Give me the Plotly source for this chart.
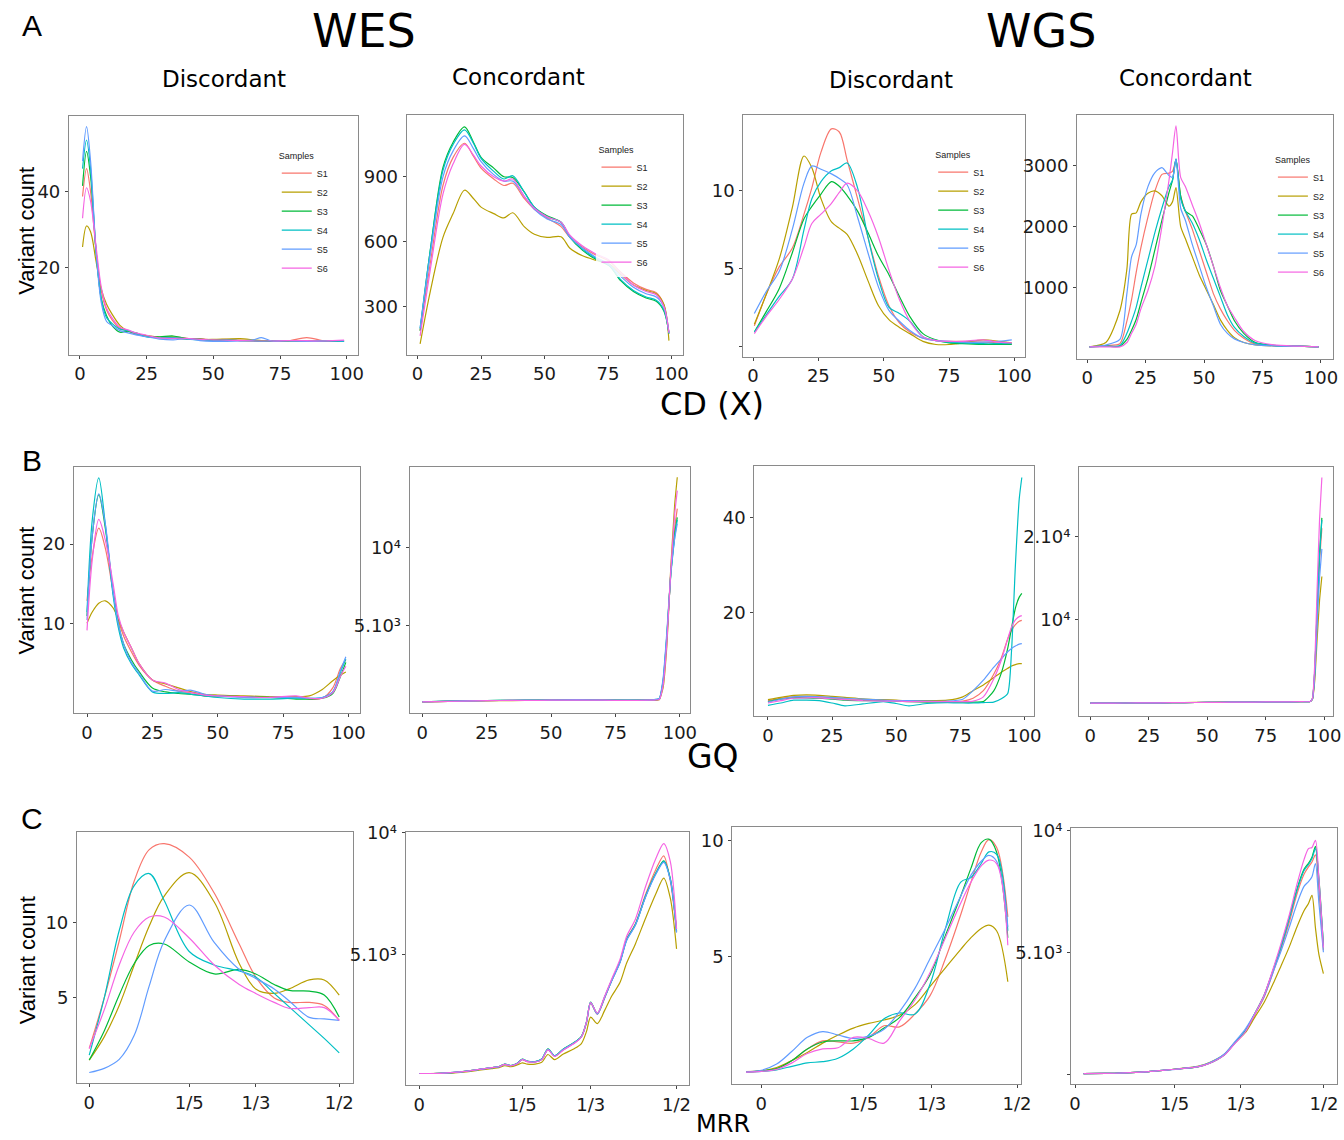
import plotly.graph_objects as go

# page geometry (the photographed page maps page px -> picture px with a small scale/offset)
FW, FH = 1356, 1140
S, OY = 0.992, 9.0

SAMPLES = ["S1", "S2", "S3", "S4", "S5", "S6"]
COLORS = ["#F8766D", "#B79F00", "#00BA38", "#00BFC4", "#619CFF", "#F564E3"]

PCT_TICKS = [0, 25, 50, 75, 100]
PCT_LABELS = ["0", "25", "50", "75", "100"]
MRR_TICKS = [0, 0.2, 1 / 3, 0.5]
MRR_LABELS = ["0", "1/5", "1/3", "1/2"]

# ---------------- Row A : CD (X) ----------------
A1_X = [1, 2.5, 4, 6, 8, 10, 12, 15, 18, 21, 25, 30, 35, 40, 45, 50, 55, 60, 65, 68, 72, 78, 85, 92, 99]
A1_S1 = [38.7, 46.0, 40.0, 25.0, 14.0, 9.0, 6.5, 4.2, 3.5, 2.6, 2.2, 1.8, 1.6, 1.4, 1.5, 1.2, 1.3, 1.1, 1.0, 0.9, 0.9, 0.9, 1.8, 0.9, 1.0]
A1_S2 = [25.5, 31.0, 29.5, 22.0, 14.5, 10.5, 8.0, 5.0, 3.5, 2.8, 2.3, 1.9, 2.0, 1.6, 1.3, 1.3, 1.4, 1.5, 1.2, 1.0, 1.0, 0.9, 0.9, 0.8, 0.9]
A1_S3 = [41.5, 50.5, 44.0, 25.0, 12.0, 7.5, 5.0, 3.2, 3.5, 3.0, 2.0, 2.0, 2.2, 1.5, 1.4, 1.1, 1.2, 1.0, 0.9, 0.8, 0.8, 0.9, 0.9, 0.8, 0.8]
A1_S4 = [46.0, 53.5, 46.0, 25.0, 12.0, 7.0, 5.5, 4.0, 3.6, 2.8, 2.0, 1.7, 1.8, 1.4, 1.2, 1.0, 1.1, 1.0, 0.9, 0.8, 0.9, 0.9, 0.8, 0.9, 0.8]
A1_S5 = [48.0, 57.0, 48.0, 25.0, 11.0, 6.0, 5.0, 3.6, 3.0, 2.5, 2.0, 1.4, 1.2, 1.5, 1.0, 0.8, 0.8, 0.9, 1.2, 1.8, 0.9, 1.0, 0.8, 0.9, 1.0]
A1_S6 = [33.0, 41.0, 37.5, 26.0, 15.0, 9.5, 7.0, 4.5, 3.8, 3.0, 2.4, 1.7, 1.6, 1.6, 1.3, 1.2, 1.1, 1.0, 0.9, 0.9, 0.9, 1.0, 1.0, 0.9, 1.1]
A1_YTICKS = [20, 40]
A1_YLABELS = ["20", "40"]

A2_X = [1, 5, 10, 14, 18.5, 22, 25, 30, 34, 37.5, 42, 46, 51, 56.5, 60, 65, 70, 75.5, 80, 85, 90, 94, 97, 99]
A2_S1 = [190, 500, 860, 990, 1055, 995, 940, 890, 860, 870, 800, 750, 710, 670, 620, 575, 540, 510, 460, 410, 380, 365, 310, 175]
A2_S2 = [128, 370, 620, 730, 838, 800, 760, 730, 710, 734, 670, 635, 620, 623, 570, 535, 515, 497, 450, 400, 375, 360, 310, 143]
A2_S3 = [189, 560, 943, 1060, 1131, 1060, 990, 940, 900, 897, 830, 760, 720, 690, 620, 560, 520, 489, 420, 370, 340, 325, 280, 180]
A2_S4 = [200, 560, 930, 1050, 1117, 1055, 985, 925, 890, 905, 830, 760, 715, 690, 625, 565, 525, 490, 425, 375, 345, 330, 285, 175]
A2_S5 = [200, 540, 900, 1020, 1089, 1030, 970, 910, 880, 880, 810, 750, 705, 680, 620, 570, 530, 495, 440, 390, 360, 345, 300, 180]
A2_S6 = [165, 470, 820, 960, 1050, 1000, 950, 900, 880, 890, 810, 755, 715, 690, 630, 580, 545, 515, 455, 400, 370, 355, 300, 180]
A2_YTICKS = [300, 600, 900]
A2_YLABELS = ["300", "600", "900"]

A3_X = [0.5, 5, 10, 15, 19.5, 22.5, 26, 30, 33, 36, 40, 44, 48, 52, 56, 60, 65, 70, 75, 80, 88, 94, 99]
A3_S1 = [1.3, 3.3, 5.1, 6.3, 8.5, 10.2, 12.5, 14.0, 13.8, 12.0, 9.5, 7.0, 4.5, 2.6, 1.5, 0.9, 0.5, 0.35, 0.3, 0.3, 0.25, 0.2, 0.13]
A3_S2 = [1.4, 3.3, 5.6, 8.9, 12.25, 11.5, 9.5, 8.0, 7.6, 7.2, 5.9, 4.2, 2.6, 1.7, 1.2, 0.8, 0.3, 0.1, 0.1, 0.2, 0.4, 0.3, 0.2]
A3_S3 = [0.9, 2.2, 3.7, 6.0, 8.2, 9.0, 9.8, 10.6, 10.3, 9.7, 8.7, 7.3, 5.8, 4.6, 3.2, 1.9, 0.8, 0.4, 0.2, 0.15, 0.1, 0.1, 0.1]
A3_S4 = [0.9, 2.0, 3.2, 4.3, 7.5, 9.5, 10.6, 11.3, 11.5, 11.8, 10.2, 7.0, 4.3, 2.5, 2.1, 1.6, 0.6, 0.35, 0.25, 0.2, 0.15, 0.15, 0.15]
A3_S5 = [2.1, 3.5, 4.8, 7.5, 10.5, 11.6, 11.4, 11.1, 10.8, 10.4, 8.3, 6.0, 3.8, 2.3, 1.6, 1.0, 0.5, 0.35, 0.3, 0.25, 0.25, 0.3, 0.4]
A3_S6 = [0.8, 1.9, 3.0, 4.3, 6.4, 7.9, 8.5, 9.2, 9.9, 10.5, 10.0, 8.7, 7.0, 4.9, 3.0, 1.6, 0.6, 0.35, 0.3, 0.3, 0.4, 0.25, 0.2]
A3_YTICKS = [0, 5, 10]
A3_YLABELS = ["", "5", "10"]

A4_X = [1, 8, 14, 17, 19, 21, 23, 26, 29, 32, 35, 36.5, 38, 40, 42, 45, 48, 51, 54, 57, 60, 63, 67, 72, 80, 90, 99]
A4_S1 = [30, 50, 80, 450, 800, 1250, 1650, 2150, 2580, 2850, 2870, 2900, 3070, 2500, 2250, 1950, 1600, 1250, 900, 650, 456, 300, 170, 75, 50, 40, 30]
A4_S2 = [30, 100, 620, 1300, 2200, 2220, 2400, 2540, 2580, 2500, 2330, 2400, 2634, 2000, 1800, 1500, 1200, 960, 720, 470, 300, 180, 100, 60, 45, 40, 30]
A4_S3 = [30, 40, 40, 150, 300, 480, 750, 1150, 1620, 2100, 2550, 2750, 3098, 2500, 2250, 2170, 1950, 1700, 1350, 950, 700, 456, 250, 100, 55, 40, 30]
A4_S4 = [30, 40, 50, 250, 450, 680, 1000, 1450, 1900, 2300, 2650, 2750, 3098, 2450, 2250, 2050, 1780, 1450, 1150, 850, 550, 347, 200, 90, 50, 40, 30]
A4_S5 = [30, 60, 150, 900, 1500, 1700, 2200, 2650, 2880, 2961, 2830, 2800, 3098, 2300, 2100, 1700, 1350, 1000, 700, 400, 250, 160, 100, 60, 45, 40, 30]
A4_S6 = [30, 30, 30, 100, 250, 400, 650, 950, 1350, 2000, 2750, 3200, 3642, 2800, 2650, 2350, 2050, 1700, 1350, 1000, 700, 510, 280, 129, 60, 40, 30]
A4_YTICKS = [1000, 2000, 3000]
A4_YLABELS = ["1000", "2000", "3000"]

# ---------------- Row B : GQ ----------------
B1_X = [0, 2, 4.5, 7, 10, 12, 14, 17, 20, 25, 30, 35, 40, 45, 50, 60, 70, 80, 85, 90, 94, 97, 99]
B1_S1 = [12.9, 18.5, 22, 19.5, 14, 10.5, 8.5, 6.5, 4.8, 3.0, 2.2, 1.6, 1.4, 1.0, 1.0, 0.9, 0.8, 0.9, 0.6, 0.7, 2.0, 4.5, 5.5]
B1_S2 = [10.1, 11.5, 12.6, 12.9, 12.0, 10.5, 9.0, 7.0, 5.0, 3.0, 2.5, 2.0, 1.5, 1.2, 1.1, 1.0, 0.9, 0.9, 1.0, 1.8, 2.9, 3.6, 4.0]
B1_S3 = [11, 21, 26.2, 22, 14, 10, 7.5, 5.5, 4.0, 2.0, 1.5, 1.3, 1.2, 1.0, 1.0, 0.9, 0.8, 0.6, 0.6, 0.7, 1.3, 3.5, 5.2]
B1_S4 = [11.5, 23, 28.3, 22.5, 13.5, 9.5, 7.0, 5.0, 3.6, 1.5, 1.3, 1.4, 1.2, 1.0, 0.8, 0.6, 0.6, 0.7, 0.7, 0.8, 1.5, 4.0, 5.6]
B1_S5 = [10.5, 21, 26.3, 22.5, 14, 10, 7.5, 5.2, 3.8, 1.6, 1.8, 1.6, 1.7, 1.2, 1.0, 0.8, 0.8, 0.8, 0.7, 0.8, 1.5, 4.2, 5.9]
B1_S6 = [9.2, 18, 23.1, 20.5, 15, 11, 9.0, 7.0, 5.0, 3.0, 2.6, 1.8, 1.4, 1.1, 1.0, 0.9, 0.8, 1.0, 0.7, 0.7, 1.4, 3.5, 4.7]
B1_YTICKS = [10, 20]
B1_YLABELS = ["10", "20"]

B2_X = [0, 10, 20, 30, 40, 50, 60, 70, 80, 88, 92, 93.5, 95, 96.5, 98, 99]
B2_S1 = [80, 120, 150, 170, 180, 190, 200, 190, 180, 190, 250, 1300, 4300, 8500, 11300, 12530]
B2_S2 = [70, 110, 140, 160, 170, 180, 190, 180, 170, 180, 220, 1000, 3800, 8800, 12800, 14545]
B2_S3 = [90, 130, 160, 180, 190, 200, 220, 200, 190, 200, 270, 1400, 4400, 8400, 10900, 11970]
B2_S4 = [90, 130, 160, 180, 190, 200, 230, 200, 190, 200, 280, 1450, 4500, 8300, 10700, 11800]
B2_S5 = [80, 120, 150, 170, 180, 190, 210, 190, 180, 190, 300, 1600, 4700, 8400, 10600, 11560]
B2_S6 = [80, 120, 150, 170, 180, 190, 200, 190, 180, 190, 240, 1150, 4000, 8600, 12200, 13690]
B2_YTICKS = [5000, 10000]
B2_YLABELS = ["5.10³", "10⁴"]

B3_X = [0, 5, 10, 15, 20, 25, 30, 37, 45, 50, 55, 62, 70, 76, 80, 84, 88, 91, 93.5, 95, 96.5, 98, 99]
B3_S1 = [1.5, 2.0, 2.3, 2.4, 2.3, 2.1, 1.9, 1.7, 1.6, 1.5, 1.4, 1.4, 1.3, 1.4, 2.0, 3.6, 7.0, 10.5, 14.5, 16.3, 17.5, 18.2, 18.4]
B3_S2 = [1.7, 2.2, 2.6, 2.7, 2.6, 2.4, 2.2, 1.9, 1.7, 1.6, 1.5, 1.5, 1.6, 2.3, 3.6, 4.8, 6.3, 7.5, 8.3, 8.8, 9.1, 9.3, 9.3]
B3_S3 = [1.3, 1.8, 2.1, 2.1, 2.0, 1.8, 1.6, 1.5, 1.5, 1.4, 1.3, 1.2, 1.2, 1.2, 1.2, 1.3, 3.5, 7.3, 12.5, 16.8, 21, 23.3, 24.1]
B3_S4 = [0.5, 1.0, 1.6, 1.6, 1.5, 1.0, 0.4, 0.8, 1.3, 0.9, 0.4, 0.9, 1.1, 1.0, 1.0, 1.1, 1.2, 1.9, 3.0, 12, 30, 44, 48.5]
B3_S5 = [1.2, 1.8, 2.3, 2.4, 2.3, 2.2, 2.0, 1.8, 1.6, 1.5, 1.5, 1.4, 1.4, 1.8, 3.6, 5.8, 8.5, 10.3, 11.8, 12.5, 13.0, 13.4, 13.5]
B3_S6 = [1.0, 1.5, 2.0, 2.1, 2.1, 1.9, 1.7, 1.5, 1.4, 1.4, 1.3, 1.3, 1.3, 1.3, 1.4, 2.3, 6.0, 10.0, 14.5, 17.0, 18.5, 19.2, 19.4]
B3_YTICKS = [20, 40]
B3_YLABELS = ["20", "40"]

B4_X = [0, 10, 20, 30, 40, 50, 60, 70, 80, 90, 94, 95, 96, 97, 98, 99]
B4_S1 = [0, 10, 20, 40, 60, 90, 110, 130, 150, 170, 200, 520, 3900, 10800, 17000, 21000]
B4_S2 = [0, 10, 20, 40, 60, 100, 120, 140, 150, 170, 200, 480, 2800, 7800, 12300, 15200]
B4_S3 = [0, 10, 20, 40, 60, 90, 110, 130, 150, 170, 200, 550, 4100, 11500, 18000, 22250]
B4_S4 = [0, 10, 20, 40, 60, 90, 110, 130, 150, 170, 200, 550, 4050, 11400, 17800, 22000]
B4_S5 = [0, 10, 20, 40, 60, 90, 110, 130, 150, 170, 200, 500, 3400, 9600, 15000, 18530]
B4_S6 = [0, 10, 20, 40, 60, 90, 110, 130, 150, 170, 200, 600, 5000, 14000, 22000, 27100]
B4_YTICKS = [10000, 20000]
B4_YLABELS = ["10⁴", "2.10⁴"]

# ---------------- Row C : MRR ----------------
C1_X = [0, 0.03, 0.06, 0.09, 0.12, 0.15, 0.2, 0.25, 0.3, 0.333, 0.37, 0.4, 0.44, 0.47, 0.5]
C1_S1 = [1.63, 5.0, 8.8, 12.8, 14.9, 15.3, 14.4, 12.0, 8.6, 6.4, 5.0, 4.7, 4.7, 4.5, 3.5]
C1_S2 = [0.85, 2.4, 4.5, 7.2, 9.8, 11.8, 13.36, 11.4, 7.3, 5.6, 5.3, 5.6, 6.2, 6.2, 5.18]
C1_S3 = [0.85, 2.8, 5.2, 7.3, 8.5, 8.6, 7.4, 6.6, 6.9, 6.6, 5.9, 5.5, 5.45, 5.2, 3.73]
C1_S4 = [1.18, 5.0, 9.5, 12.5, 13.3, 11.5, 8.1, 7.2, 6.8, 6.4, 5.3, 4.4, 3.2, 2.3, 1.33]
C1_S5 = [0.02, 0.3, 0.9, 2.5, 5.8, 8.8, 11.2, 8.7, 6.9, 6.3, 5.6, 4.8, 3.7, 3.6, 3.5]
C1_S6 = [1.63, 4.2, 7.2, 9.4, 10.4, 10.4, 9.0, 7.2, 5.9, 5.3, 4.7, 4.3, 4.35, 4.35, 3.5]
C1_YTICKS = [5, 10]
C1_YLABELS = ["5", "10"]

C2_X = [0, 0.04, 0.08, 0.12, 0.14, 0.155, 0.166, 0.178, 0.19, 0.2, 0.21, 0.225, 0.238, 0.25, 0.263,
        0.28, 0.3, 0.315, 0.325, 0.333, 0.346, 0.36, 0.374, 0.39, 0.403, 0.42, 0.44, 0.46, 0.475, 0.488, 0.5]
C2_S1 = [123, 130, 190, 300, 360, 400, 500, 440, 520, 690, 610, 600, 700, 1100, 830, 1100, 1350, 1620, 2200, 3009,
         2550, 3200, 3940, 4700, 5640, 6260, 7480, 8500, 9047, 8000, 5981]
C2_S2 = [123, 125, 170, 270, 320, 360, 440, 400, 470, 560, 510, 510, 580, 900, 690, 920, 1130, 1350, 1850, 2437,
         2167, 2700, 3300, 3850, 4650, 5437, 6500, 7500, 8136, 7300, 5233]
C2_S3 = [123, 130, 190, 300, 365, 405, 510, 450, 540, 710, 630, 610, 720, 1130, 850, 1130, 1380, 1650, 2250, 3050,
         2580, 3250, 3950, 4700, 5620, 6230, 7400, 8350, 8843, 8100, 5950]
C2_S4 = [123, 130, 188, 300, 365, 405, 505, 450, 535, 705, 625, 605, 715, 1125, 845, 1120, 1370, 1640, 2240, 3040,
         2570, 3240, 3940, 4690, 5600, 6220, 7400, 8330, 8820, 8080, 5930]
C2_S5 = [123, 130, 188, 300, 362, 400, 500, 445, 530, 700, 620, 600, 710, 1115, 840, 1110, 1360, 1630, 2230, 3030,
         2560, 3220, 3920, 4660, 5580, 6200, 7370, 8300, 8780, 8050, 5900]
C2_S6 = [123, 130, 185, 300, 360, 400, 495, 440, 520, 690, 610, 590, 690, 1090, 820, 1090, 1340, 1620, 2250, 3030,
         2600, 3280, 4000, 4800, 5750, 6450, 7800, 8950, 9550, 8800, 6050]
C2_YTICKS = [5000, 10000]
C2_YLABELS = ["5.10³", "10⁴"]

C3_X = [-0.03, 0.0, 0.03, 0.06, 0.09, 0.12, 0.15, 0.18, 0.21, 0.24, 0.27, 0.3, 0.33, 0.36, 0.39, 0.41, 0.43, 0.445, 0.46, 0.482]
C3_S1 = [0.02, 0.05, 0.15, 0.5, 1.0, 1.35, 1.3, 1.25, 1.5, 2.0, 1.95, 2.5, 3.3, 4.9, 6.8, 8.2, 9.5, 10.03, 9.7, 6.7]
C3_S2 = [0.0, 0.05, 0.2, 0.5, 0.85, 1.25, 1.6, 1.9, 2.1, 2.25, 2.45, 2.9, 3.7, 4.5, 5.3, 5.8, 6.2, 6.34, 6.1, 3.9]
C3_S3 = [0.0, 0.05, 0.15, 0.5, 1.0, 1.3, 1.35, 1.35, 1.5, 1.9, 2.35, 3.2, 4.2, 5.9, 7.6, 8.8, 9.9, 10.05, 9.5, 5.8]
C3_S4 = [0.0, 0.03, 0.1, 0.25, 0.4, 0.45, 0.6, 1.0, 1.6, 2.3, 2.55, 2.5, 3.8, 6.2, 8.2, 8.4, 9.0, 9.5, 9.4, 6.1]
C3_S5 = [0.0, 0.08, 0.35, 0.9, 1.5, 1.75, 1.6, 1.45, 1.55, 1.85, 2.6, 3.6, 4.9, 6.2, 7.6, 8.5, 9.1, 9.35, 9.1, 6.27]
C3_S6 = [0.0, 0.03, 0.12, 0.4, 0.8, 1.0, 1.05, 1.5, 1.45, 1.25, 2.2, 3.1, 4.3, 5.8, 7.3, 8.2, 8.9, 9.15, 9.0, 5.47]
C3_YTICKS = [5, 10]
C3_YLABELS = ["5", "10"]

C4_X = [0.017, 0.06, 0.1, 0.14, 0.18, 0.21, 0.246, 0.27, 0.3, 0.32, 0.342, 0.36, 0.38, 0.4, 0.413, 0.43,
        0.446, 0.46, 0.469, 0.476, 0.483, 0.49, 0.499]
C4_S1 = [20, 30, 50, 90, 164, 220, 300, 450, 800, 1257, 1735, 2400, 3170, 4300, 5080, 6200, 7400, 8200, 8500, 8700, 9000, 7500, 5080]
C4_S2 = [20, 30, 50, 90, 160, 230, 320, 480, 820, 1280, 1700, 2300, 2950, 3800, 4400, 5200, 6050, 6700, 7000, 7336, 6000, 4900, 4127]
C4_S3 = [20, 30, 50, 90, 164, 220, 300, 450, 800, 1257, 1780, 2450, 3250, 4400, 5200, 6400, 7600, 8400, 8650, 8900, 9344, 8000, 5300]
C4_S4 = [20, 30, 50, 90, 164, 220, 300, 450, 800, 1257, 1760, 2430, 3230, 4380, 5180, 6350, 7550, 8350, 8600, 8850, 9250, 7900, 5250]
C4_S5 = [20, 30, 50, 90, 164, 220, 310, 470, 830, 1300, 1850, 2450, 3200, 4300, 5000, 6000, 7000, 7700, 7900, 8100, 8634, 7000, 5000]
C4_S6 = [20, 30, 50, 90, 164, 220, 300, 440, 780, 1230, 1730, 2420, 3250, 4450, 5300, 6500, 7800, 8800, 9250, 9300, 9590, 8000, 5200]
C4_YTICKS = [0, 5000, 10000]
C4_YLABELS = ["", "5.10³", "10⁴"]


def fx(px):
    return (px / S) / FW


def fy(py):
    return 1 - ((py - OY) / S) / FH


# ---------------- layout of panels (boxes in picture px, axis ranges) ----------------
panels = [
    dict(x=A1_X, ys=[A1_S1, A1_S2, A1_S3, A1_S4, A1_S5, A1_S6], box=(67, 356, 115, 354),
         xr=(-4.1, 104.1), yr=(-2.7, 59.8), xt=(PCT_TICKS, PCT_LABELS), yt=(A1_YTICKS, A1_YLABELS),
         legend="legend", sm=0.9),
    dict(x=A2_X, ys=[A2_S1, A2_S2, A2_S3, A2_S4, A2_S5, A2_S6], box=(405, 682, 114, 354),
         xr=(-4.3, 104.7), yr=(78, 1186), xt=(PCT_TICKS, PCT_LABELS), yt=(A2_YTICKS, A2_YLABELS),
         legend="legend2", sm=0.9),
    dict(x=A3_X, ys=[A3_S1, A3_S2, A3_S3, A3_S4, A3_S5, A3_S6], box=(742, 1024, 114, 356),
         xr=(-3.7, 104.1), yr=(-0.69, 14.9), xt=(PCT_TICKS, PCT_LABELS), yt=(A3_YTICKS, A3_YLABELS),
         legend="legend3", sm=0.9),
    dict(x=A4_X, ys=[A4_S1, A4_S2, A4_S3, A4_S4, A4_S5, A4_S6], box=(1076, 1332, 114, 358),
         xr=(-4.3, 105.1), yr=(-165, 3822), xt=(PCT_TICKS, PCT_LABELS), yt=(A4_YTICKS, A4_YLABELS),
         legend="legend4", sm=0.7),
    dict(x=B1_X, ys=[B1_S1, B1_S2, B1_S3, B1_S4, B1_S5, B1_S6], box=(72, 358, 466, 713),
         xr=(-5.0, 104.3), yr=(-1.2, 29.7), xt=(PCT_TICKS, PCT_LABELS), yt=(B1_YTICKS, B1_YLABELS), sm=0.9),
    dict(x=B2_X, ys=[B2_S1, B2_S2, B2_S3, B2_S4, B2_S5, B2_S6], box=(408, 689, 466, 713),
         xr=(-4.9, 104.1), yr=(-663, 15232), xt=(PCT_TICKS, PCT_LABELS), yt=(B2_YTICKS, B2_YLABELS), sm=0.4),
    dict(x=B3_X, ys=[B3_S1, B3_S2, B3_S3, B3_S4, B3_S5, B3_S6], box=(753, 1033, 465, 716),
         xr=(-5.3, 103.8), yr=(-1.83, 51), xt=(PCT_TICKS, PCT_LABELS), yt=(B3_YTICKS, B3_YLABELS), sm=0.6),
    dict(x=B4_X, ys=[B4_S1, B4_S2, B4_S3, B4_S4, B4_S5, B4_S6], box=(1078, 1332, 466, 716),
         xr=(-4.8, 103.7), yr=(-1600, 28400), xt=(PCT_TICKS, PCT_LABELS), yt=(B4_YTICKS, B4_YLABELS), sm=0.4),
    dict(x=C1_X, ys=[C1_S1, C1_S2, C1_S3, C1_S4, C1_S5, C1_S6], box=(75, 351, 832, 1083),
         xr=(-0.0246, 0.527), yr=(-0.69, 16.05), xt=(MRR_TICKS, MRR_LABELS), yt=(C1_YTICKS, C1_YLABELS), sm=1.0),
    dict(x=C2_X, ys=[C2_S1, C2_S2, C2_S3, C2_S4, C2_S5, C2_S6], box=(404, 688, 832, 1085),
         xr=(-0.0266, 0.525), yr=(-356, 10010), xt=(MRR_TICKS, MRR_LABELS), yt=(C2_YTICKS, C2_YLABELS), sm=0.8),
    dict(x=C3_X, ys=[C3_S1, C3_S2, C3_S3, C3_S4, C3_S5, C3_S6], box=(731, 1020, 827, 1084),
         xr=(-0.0566, 0.508), yr=(-0.52, 10.56), xt=(MRR_TICKS, MRR_LABELS), yt=(C3_YTICKS, C3_YLABELS), sm=1.0),
    dict(x=C4_X, ys=[C4_S1, C4_S2, C4_S3, C4_S4, C4_S5, C4_S6], box=(1070, 1336, 828, 1084),
         xr=(-0.008, 0.526), yr=(-410, 10082), xt=(MRR_TICKS, MRR_LABELS), yt=(C4_YTICKS, C4_YLABELS), sm=0.8),
]

TICKFONT = dict(family="DejaVu Sans", size=18, color="#1a1a1a")

fig = go.Figure()
layout = dict(width=FW, height=FH, margin=dict(l=0, r=0, t=0, b=0),
              paper_bgcolor="white", plot_bgcolor="white", showlegend=True)

for i, p in enumerate(panels, start=1):
    sfx = "" if i == 1 else str(i)
    xa, ya = "x" + sfx, "y" + sfx
    leg = p.get("legend")
    for s in range(6):
        fig.add_trace(go.Scatter(
            x=p["x"], y=p["ys"][s], mode="lines", name=SAMPLES[s],
            line=dict(color=COLORS[s], width=1.2, shape="spline", smoothing=p["sm"]),
            xaxis=xa, yaxis=ya, legend=leg if leg else "legend",
            showlegend=bool(leg), hoverinfo="skip"))
    x0, x1, y0, y1 = p["box"]
    axis_common = dict(showline=True, linecolor="#8a8a8a", linewidth=1, mirror=True,
                       showgrid=False, zeroline=False, ticks="outside", ticklen=3,
                       tickcolor="#444", tickwidth=1, tickfont=TICKFONT)
    layout["xaxis" + sfx] = dict(domain=[fx(x0), min(fx(x1), 1.0)], anchor=ya, range=list(p["xr"]),
                                 tickmode="array", tickvals=p["xt"][0], ticktext=p["xt"][1], **axis_common)
    layout["yaxis" + sfx] = dict(domain=[fy(y1), fy(y0)], anchor=xa, range=list(p["yr"]),
                                 tickmode="array", tickvals=p["yt"][0], ticktext=p["yt"][1],
                                 ticklabelstandoff=1, **axis_common)

legend_pos = {"legend": (275, 146), "legend2": (595, 140), "legend3": (932, 145), "legend4": (1272, 150)}
for name, (lx, ly) in legend_pos.items():
    layout[name] = dict(x=fx(lx), y=fy(ly), xanchor="left", yanchor="top",
                        bgcolor="rgba(255,255,255,0.85)", borderwidth=0,
                        font=dict(family="Liberation Sans", size=9, color="#222"),
                        title=dict(text="Samples", font=dict(family="Liberation Sans", size=9, color="#222")),
                        itemwidth=30, tracegroupgap=0)

ann = []


def text(t, px, py, size, family="DejaVu Sans", angle=0):
    ann.append(dict(text=t, x=fx(px), y=fy(py), xref="paper", yref="paper",
                    xanchor="center", yanchor="middle", showarrow=False, textangle=angle,
                    font=dict(family=family, size=size, color="black")))


text("A", 30, 25, 30, "Liberation Sans")
text("B", 30, 460, 30, "Liberation Sans")
text("C", 30, 818, 30, "Liberation Sans")
text("WES", 362, 30, 46)
text("WGS", 1040, 30, 46)
text("Discordant", 222, 78, 23)
text("Concordant", 517, 76, 23)
text("Discordant", 890, 79, 23)
text("Concordant", 1185, 77, 23)
text("CD (X)", 711, 403, 32)
text("GQ", 712, 756, 33)
text("MRR", 722, 1124, 24)
for cy in (230, 590, 960):
    text("Variant count", 25, cy, 22, "Liberation Sans Narrow, Liberation Sans, Arial", -90)

layout["annotations"] = ann
fig.update_layout(**layout)

PIN = ("document.documentElement.style.margin='0';document.body.style.margin='0';"
       "document.body.style.padding='0';document.body.style.overflow='hidden';"
       "var g=document.getElementById('{plot_id}');g.style.position='absolute';"
       "g.style.left='0px';g.style.top='0px';")
fig.write_html("out.html", post_script=PIN, config={"displayModeBar": False})
